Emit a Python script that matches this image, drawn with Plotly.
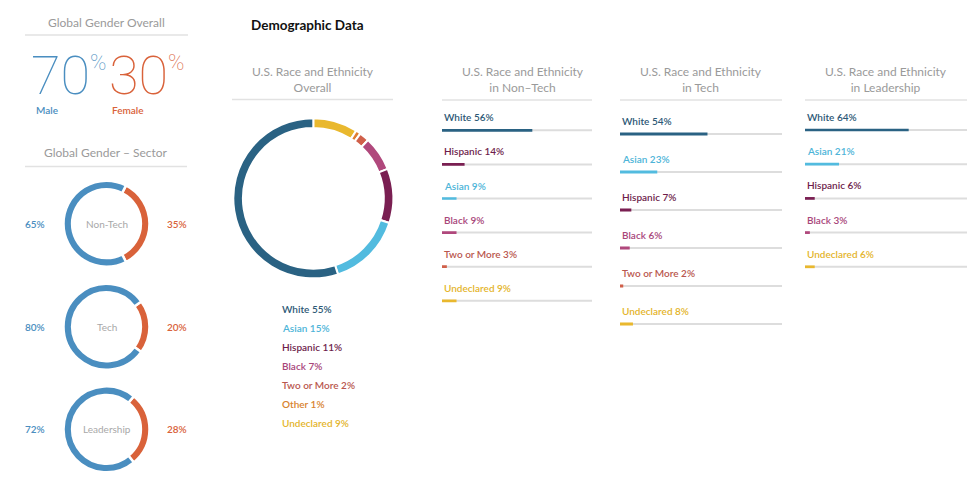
import plotly.graph_objects as go

# ---------------- data ----------------
overall_male = 70
overall_female = 30

sector_names = ["Non-Tech", "Tech", "Leadership"]
sector_male = [65, 80, 72]
sector_female = [35, 20, 28]

overall_labels = ["White", "Asian", "Hispanic", "Black", "Two or More", "Other", "Undeclared"]
overall_values = [55, 15, 11, 7, 2, 1, 9]

nontech_labels = ["White", "Hispanic", "Asian", "Black", "Two or More", "Undeclared"]
nontech_values = [56, 14, 9, 9, 3, 9]

tech_labels = ["White", "Asian", "Hispanic", "Black", "Two or More", "Undeclared"]
tech_values = [54, 23, 7, 6, 2, 8]

lead_labels = ["White", "Asian", "Hispanic", "Black", "Undeclared"]
lead_values = [64, 21, 6, 3, 6]

# ---------------- styles ----------------
W, H = 980, 489
FONT = "Lato"
GRAY = "#9a9a9a"
LINE = "#e2e2e2"
MALE_C = "#4a8ec0"
FEMALE_C = "#d9623a"

seg_color = {
    "White": "#2a6283", "Asian": "#52bbdf", "Hispanic": "#7a1f52",
    "Black": "#b0487c", "Two or More": "#d0604a", "Other": "#df7d32",
    "Undeclared": "#e9b82e",
}
txt_color = {
    "White": "#2d5876", "Asian": "#4db4d8", "Hispanic": "#6e1d4b",
    "Black": "#a8467a", "Two or More": "#b9574e", "Other": "#d8832e",
    "Undeclared": "#e4b52c",
}


def px(x):
    return x / W


def py(y):
    return 1 - y / H


fig = go.Figure()
annotations = []
shapes = []


def text(x, y, s, size=12, color=GRAY, xanchor="center", weight=None, family=FONT, **kw):
    f = dict(family=family, size=size, color=color)
    if weight is not None:
        f["weight"] = weight
    annotations.append(dict(x=px(x), y=py(y), xref="paper", yref="paper", text=s,
                            showarrow=False, xanchor=xanchor, yanchor="middle", font=f, **kw))


def hline(x0, x1, y, color=LINE, width=1.5):
    shapes.append(dict(type="line", xref="paper", yref="paper", x0=px(x0), x1=px(x1),
                       y0=py(y), y1=py(y), line=dict(color=color, width=width)))


# ---------------- Global gender overall ----------------
text(106, 23, "Global Gender Overall", size=12)
hline(25, 188, 35)
big = dict(xanchor="left", weight=100, family="Roboto", borderpad=0)
text(30, 75, str(overall_male), size=54, color=MALE_C, height=44, valign="middle", **big)
text(89, 62, "%", size=22, color=MALE_C, height=20, **big)
text(108, 75, str(overall_female), size=54, color=FEMALE_C, height=44, valign="middle", **big)
text(167, 62, "%", size=22, color=FEMALE_C, height=20, **big)
text(35, 110, "Male", size=10, color=MALE_C, xanchor="left", weight=600, borderpad=0)
text(111, 110, "Female", size=10, color=FEMALE_C, xanchor="left", weight=600, borderpad=0)

# ---------------- Global gender by sector ----------------
text(106, 153, "Global Gender \u2013 Sector", size=12)
hline(25, 187, 166.5)
gcx, gr = 106.5, 43
gcy = [223.7, 326.7, 429.3]
for name, m, f, cy in zip(sector_names, sector_male, sector_female, gcy):
    fig.add_trace(go.Pie(
        labels=["Female", "Male"], values=[f, m], sort=False, direction="clockwise",
        rotation=90 - f / (m + f) * 180, hole=0.8, textinfo="none", hoverinfo="label+percent",
        marker=dict(colors=[FEMALE_C, MALE_C], line=dict(color="white", width=2.5)),
        domain=dict(x=[px(gcx - gr), px(gcx + gr)], y=[py(cy + gr), py(cy - gr)]),
        showlegend=False,
    ))
    text(gcx, cy, name, size=10, color="#a8a8a8")
    text(35, cy, f"{m}%", size=10, color=MALE_C, weight=600)
    text(177, cy, f"{f}%", size=10, color=FEMALE_C, weight=600)

# ---------------- Demographic data ----------------
text(249, 25, "Demographic Data", size=13.5, color="#111111", xanchor="left", weight=700)

# overall donut (drawn clockwise from 12 o'clock, last category first)
text(313, 80, "U.S. Race and Ethnicity<br>Overall", size=12)
hline(232, 393, 99.5)
mcx, mcy, mr = 313.3, 198.3, 80
fig.add_trace(go.Pie(
    labels=overall_labels[::-1], values=overall_values[::-1], sort=False, direction="clockwise",
    rotation=0, hole=0.88, textinfo="none", hoverinfo="label+percent",
    marker=dict(colors=[seg_color[l] for l in overall_labels[::-1]], line=dict(color="white", width=2)),
    domain=dict(x=[px(mcx - mr), px(mcx + mr)], y=[py(mcy + mr), py(mcy - mr)]),
    showlegend=False,
))
for i, (l, v) in enumerate(zip(overall_labels, overall_values)):
    text(280, 309 + 19 * i, f"{l} {v}%", size=10, color=txt_color[l], xanchor="left", weight=600)

# bar columns
columns = [
    dict(title2="in Non\u2013Tech", labels=nontech_labels, values=nontech_values,
         x0=442, x1=592, xmax=93, row0=130.3, step=34.1, tx=523),
    dict(title2="in Tech", labels=tech_labels, values=tech_values,
         x0=620, x1=782, xmax=100, row0=134, step=38, tx=701),
    dict(title2="in Leadership", labels=lead_labels, values=lead_values,
         x0=805, x1=967, xmax=100, row0=130, step=34.2, tx=886),
]
layout_axes = {}
for k, c in enumerate(columns, start=1):
    n = len(c["labels"])
    xa = "x" if k == 1 else f"x{k}"
    ya = "y" if k == 1 else f"y{k}"
    ytop = c["row0"] - c["step"] / 2
    ybot = c["row0"] + c["step"] * (n - 0.5)
    layout_axes["xaxis" if k == 1 else f"xaxis{k}"] = dict(
        domain=[px(c["x0"]), px(c["x1"])], range=[0, c["xmax"]], visible=False, anchor=ya, fixedrange=True)
    layout_axes["yaxis" if k == 1 else f"yaxis{k}"] = dict(
        domain=[py(ybot), py(ytop)], range=[n - 0.5, -0.5], visible=False, anchor=xa, fixedrange=True)

    text(c["tx"], 80, "U.S. Race and Ethnicity<br>" + c["title2"], size=12)
    hline(c["x0"], c["x1"], 100)

    rows = list(range(n))
    for r in rows:
        shapes.append(dict(type="line", xref=f"{xa} domain", yref=ya, x0=0, x1=1, y0=r, y1=r,
                           line=dict(color="#dddddd", width=2), layer="below"))
    fig.add_trace(go.Bar(
        x=c["values"], y=rows, orientation="h", width=0.08,
        marker=dict(color=[seg_color[l] for l in c["labels"]], line=dict(width=0)),
        xaxis=xa, yaxis=ya, showlegend=False,
        hovertext=[f"{l} {v}%" for l, v in zip(c["labels"], c["values"])], hoverinfo="text",
    ))
    for r, (l, v) in enumerate(zip(c["labels"], c["values"])):
        annotations.append(dict(x=0, y=r, xref=xa, yref=ya, text=f"{l} {v}%", showarrow=False,
                                xanchor="left", yanchor="middle", yshift=13,
                                font=dict(family=FONT, size=10, color=txt_color[l], weight=600)))

fig.update_layout(
    width=W, height=H, margin=dict(l=0, r=0, t=0, b=0),
    paper_bgcolor="white", plot_bgcolor="white",
    barmode="overlay", annotations=annotations, shapes=shapes,
    font=dict(family=FONT), **layout_axes,
)

fig.write_html("out.html", config={"displayModeBar": False},
               post_script="document.body.style.margin='0';")
